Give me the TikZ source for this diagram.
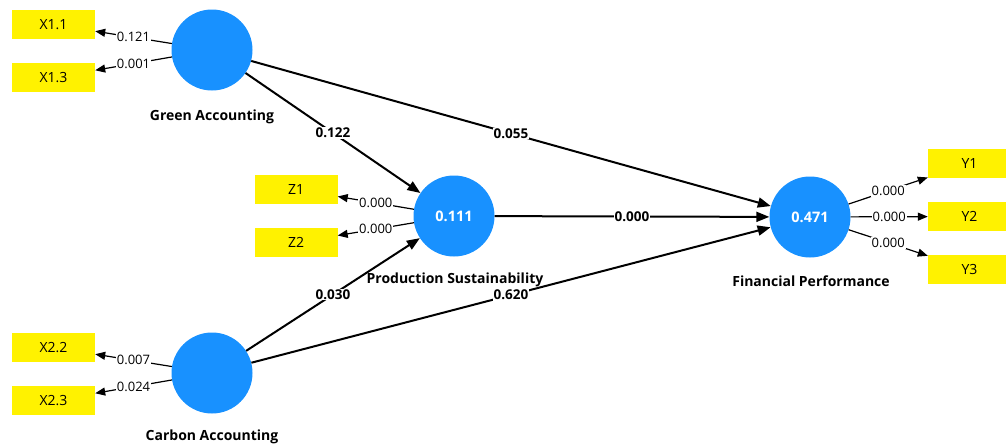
\documentclass[tikz,border=0pt]{standalone}
\usepackage{fontspec}
\setmainfont{Open Sans}
\usetikzlibrary{arrows.meta}
\definecolor{lvblue}{RGB}{24,145,255}
\begin{document}
\begin{tikzpicture}[x=1pt,y=-1pt,
  lv/.style={circle, fill=lvblue, minimum size=81pt, inner sep=0pt, text=white, font=\bfseries\fontsize{14.5}{16}\selectfont},
  ind/.style={fill=yellow, minimum width=83pt, minimum height=29pt, inner sep=0pt, font=\fontsize{14}{16}\selectfont},
  lvname/.style={font=\bfseries\fontsize{14}{16}\selectfont},
  pathedge/.style={line width=2pt, -{Triangle[length=13pt,width=10pt]}},
  loadedge/.style={line width=1.2pt, -{Triangle[length=10pt,width=8pt]}},
  plab/.style={fill=white, inner sep=1pt, font=\bfseries\fontsize{13.5}{15}\selectfont},
  llab/.style={fill=white, inner sep=1pt, font=\fontsize{13}{15}\selectfont}]
\clip (0,0) rectangle (1006,447);
\fill[white] (0,0) rectangle (1006,447);
% latent variable names
\node[lvname] (ganame) at (212,117) {Green Accounting};
\node[lvname] (caname) at (212,437) {Carbon Accounting};
\node[lvname] (psname) at (455,280) {Production Sustainability};
\node[lvname] (fpname) at (811,281) {Financial Performance};
% latent variables
\node[lv] (ga) at (212,50) {};
\node[lv] (ca) at (212,373) {};
\node[lv] (ps) at (454,216) {0.111};
\node[lv] (fp) at (810,217) {0.471};
% indicators
\node[ind] (x11) at (53.5,24.5) {X1.1};
\node[ind] (x13) at (53.5,77.5) {X1.3};
\node[ind] (x22) at (53.5,347.5) {X2.2};
\node[ind] (x23) at (53.5,400.5) {X2.3};
\node[ind] (z1) at (296,189.5) {Z1};
\node[ind] (z2) at (296,242.5) {Z2};
\node[ind] (y1) at (969.5,163.5) {Y1};
\node[ind] (y2) at (969.5,216.5) {Y2};
\node[ind] (y3) at (969.5,269.5) {Y3};
% structural paths
\draw[pathedge] (ga) -- node[plab] (l1) {0.122} (ps);
\draw[pathedge] (ga) -- node[plab] (l2) {0.055} (fp);
\draw[pathedge] (ps) -- node[plab] (l3) {0.000} (fp);
\draw[pathedge] (ca) -- node[plab] (l4) {0.030} (ps);
\draw[pathedge] (ca) -- node[plab] (l5) {0.620} (fp);
% loadings
\draw[loadedge] (ga) -- node[llab] (m1) {0.121} (x11);
\draw[loadedge] (ga) -- node[llab] (m2) {0.001} (x13);
\draw[loadedge] (ca) -- node[llab] (m3) {0.007} (x22);
\draw[loadedge] (ca) -- node[llab] (m4) {0.024} (x23);
\draw[loadedge] (ps) -- node[llab] (m5) {0.000} (z1);
\draw[loadedge] (ps) -- node[llab] (m6) {0.000} (z2);
\draw[loadedge] (fp) -- node[llab] (m7) {0.000} (y1);
\draw[loadedge] (fp) -- node[llab] (m8) {0.000} (y2);
\draw[loadedge] (fp) -- node[llab] (m9) {0.000} (y3);
\end{tikzpicture}
\end{document}
